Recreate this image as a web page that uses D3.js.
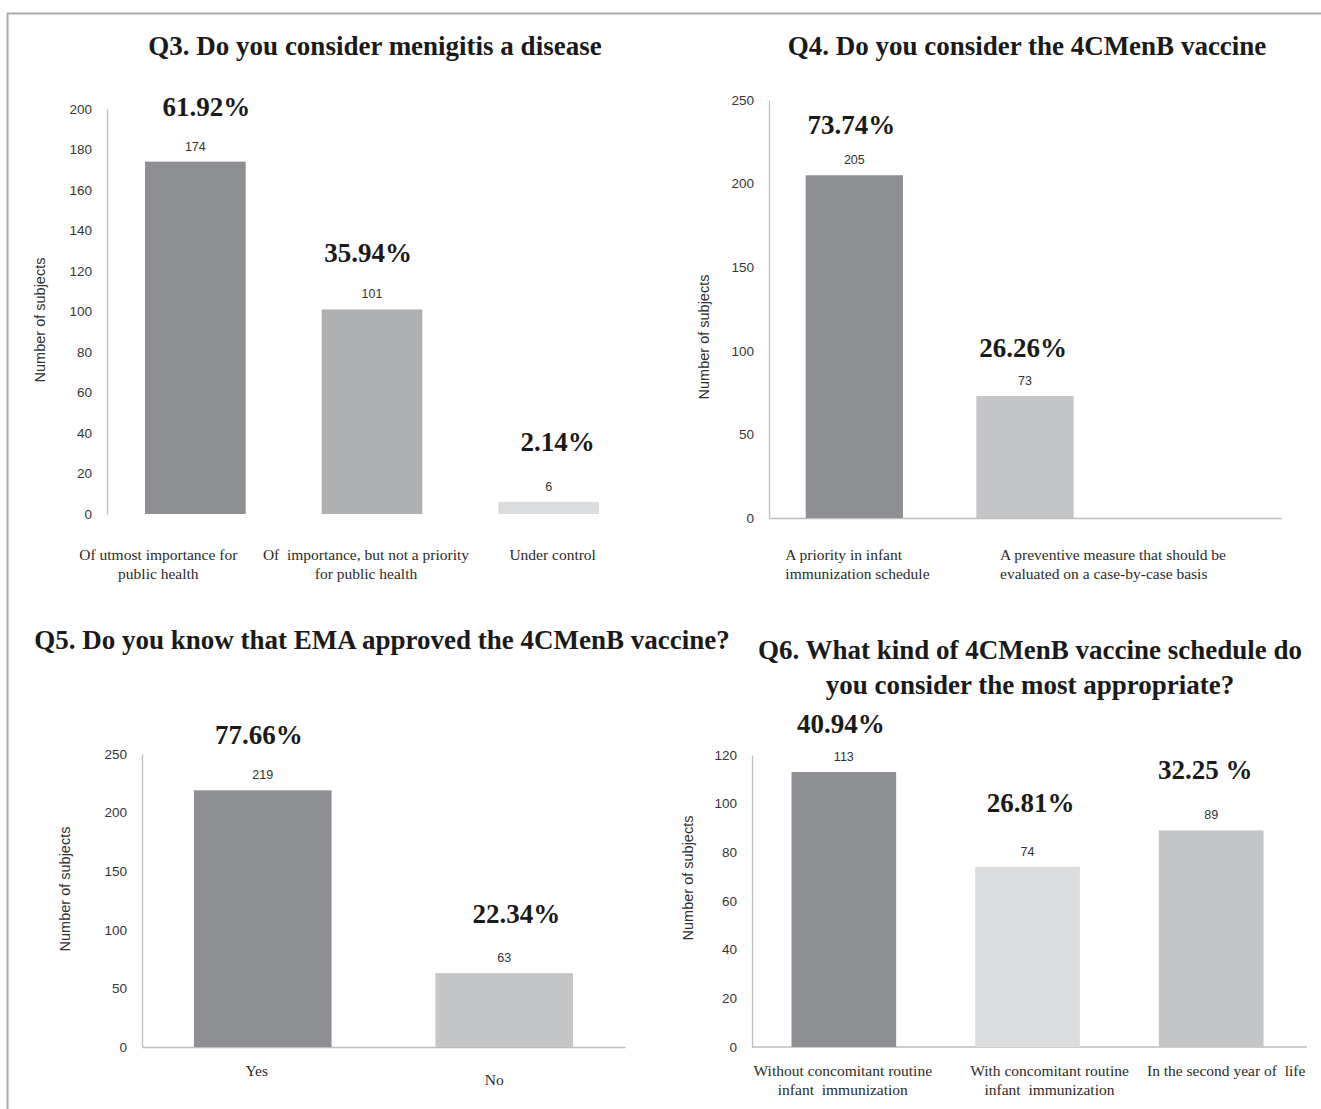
<!DOCTYPE html>
<html>
<head>
<meta charset="utf-8">
<script src="https://cdn.jsdelivr.net/npm/d3@7"></script>
<style>
  html, body { margin: 0; padding: 0; background: #ffffff; }
  svg { display: block; }
  text { white-space: pre; }
</style>
</head>
<body>
<div id="chart"></div>
<script>
// ---- Q3: How important is meningitis ----
const q3Title = ["Q3. Do you consider menigitis a disease"];
const q3Categories = [
  ["Of utmost importance for", "public health"],
  ["Of  importance, but not a priority", "for public health"],
  ["Under control"]
];
const q3Counts = [174, 101, 6];
const q3Percents = ["61.92%", "35.94%", "2.14%"];
const q3Ticks = [0, 20, 40, 60, 80, 100, 120, 140, 160, 180, 200];

// ---- Q4: Opinion on the 4CMenB vaccine ----
const q4Title = ["Q4. Do you consider the 4CMenB vaccine"];
const q4Categories = [
  ["A priority in infant", "immunization schedule"],
  ["A preventive measure that should be", "evaluated on a case-by-case basis"],
  []
];
const q4Counts = [205, 73];
const q4Percents = ["73.74%", "26.26%"];
const q4Ticks = [0, 50, 100, 150, 200, 250];

// ---- Q5: Awareness of EMA approval ----
const q5Title = ["Q5. Do you know that EMA approved the 4CMenB vaccine?"];
const q5Categories = [["Yes"], ["No"]];
const q5Counts = [219, 63];
const q5Percents = ["77.66%", "22.34%"];
const q5Ticks = [0, 50, 100, 150, 200, 250];

// ---- Q6: Preferred vaccine schedule ----
const q6Title = ["Q6. What kind of 4CMenB vaccine schedule do", "you consider the most appropriate?"];
const q6Categories = [
  ["Without concomitant routine", "infant  immunization"],
  ["With concomitant routine", "infant  immunization"],
  ["In the second year of  life"]
];
const q6Counts = [113, 74, 89];
const q6Percents = ["40.94%", "26.81%", "32.25 %"];
const q6Ticks = [0, 20, 40, 60, 80, 100, 120];

const yAxisLabel = "Number of subjects";

// Bar fills (dark, medium, light-medium, light greys)
const DARK = "#8e8f93", MID = "#afb0b2", LMID = "#c4c5c7", LIGHT = "#dbdcdd";

// Layout of each panel
const panels = [
  {
    title: q3Title, titleX: 375, titleY: 55,
    categories: q3Categories, counts: q3Counts, percents: q3Percents, ticks: q3Ticks,
    colors: [DARK, MID, LIGHT],
    xRange: [107, 637], yMax: 200, yRange: [514, 109], xAxis: false,
    yLabelX: 40, yLabelY: 320,
    catAnchor: "middle", catDx: [-37, -6, 4], catY: [560, 579],
    pctDx: [11, -4, 9], pctLift: [46, 47, 51], valLift: 11
  },
  {
    title: q4Title, titleX: 1027, titleY: 55,
    categories: q4Categories, counts: q4Counts, percents: q4Percents, ticks: q4Ticks,
    colors: [DARK, LMID],
    xRange: [769, 1281], yMax: 250, yRange: [518, 100], xAxis: true,
    yLabelX: 704, yLabelY: 337,
    catAnchor: "start", catDx: [-69, -25, 0], catY: [560, 579],
    pctDx: [-3, -2], pctLift: [41, 39], valLift: 11
  },
  {
    title: q5Title, titleX: 382, titleY: 649,
    categories: q5Categories, counts: q5Counts, percents: q5Percents, ticks: q5Ticks,
    colors: [DARK, LMID],
    xRange: [142, 625], yMax: 250, yRange: [1047, 754], xAxis: true,
    yLabelX: 65, yLabelY: 889,
    catAnchor: "middle", catDx: [-6, -10], catY: [1076, 1076], catDy: [0, 9],
    pctDx: [-4, 12], pctLift: [46, 50], valLift: 11
  },
  {
    title: q6Title, titleX: 1030, titleY: 659,
    categories: q6Categories, counts: q6Counts, percents: q6Percents, ticks: q6Ticks,
    colors: [DARK, LIGHT, LMID],
    xRange: [752, 1303], yMax: 120, yRange: [1047, 755], xAxis: true,
    yLabelX: 688, yLabelY: 878,
    catAnchor: "middle", catDx: [-1, 22, 15], catY: [1076, 1095],
    pctDx: [-3, 3, -6], pctLift: [39, 55, 51], valLift: 11
  }
];

const W = 1321, H = 1109;
const svg = d3.select("#chart").append("svg").attr("width", W).attr("height", H);

svg.append("defs").append("clipPath").attr("id", "clipRight")
  .append("rect").attr("x", 0).attr("y", 0).attr("width", 1307).attr("height", H);

// frame
svg.append("rect")
  .attr("x", 7.5).attr("y", 13.5).attr("width", W + 20).attr("height", H + 20)
  .attr("fill", "none").attr("stroke", "#ababab").attr("stroke-width", 2);

const root = svg.append("g").attr("clip-path", "url(#clipRight)");

const SERIF = "'Liberation Serif', 'Times New Roman', serif";
const SANS = "'Liberation Sans', Arial, sans-serif";

panels.forEach(p => {
  const g = root.append("g");
  const nSlots = p.categories.length;

  const x = d3.scaleBand()
    .domain(d3.range(nSlots))
    .range(p.xRange)
    .paddingInner(0.43)
    .paddingOuter(0.215);
  const y = d3.scaleLinear().domain([0, p.yMax]).range(p.yRange);

  // title
  const t = g.append("text")
    .attr("x", p.titleX).attr("y", p.titleY)
    .attr("text-anchor", "middle")
    .attr("font-family", SERIF).attr("font-weight", "bold")
    .attr("font-size", 27).attr("fill", "#1a1a1a");
  p.title.forEach((line, i) => {
    t.append("tspan").attr("x", p.titleX).attr("dy", i === 0 ? 0 : 35).text(line);
  });

  // y axis
  const yAxis = d3.axisLeft(y).tickValues(p.ticks).tickSize(0).tickPadding(15);
  const ga = g.append("g").attr("transform", `translate(${p.xRange[0]},0)`).call(yAxis);
  ga.select(".domain").attr("stroke", "#bdbdbd").attr("stroke-width", 1.3);
  ga.selectAll(".tick text")
    .attr("font-family", SANS).attr("font-size", 13.5).attr("fill", "#353535");

  // x axis baseline
  if (p.xAxis) {
    const xAxis = d3.axisBottom(x).tickSize(0).tickFormat("");
    const gx = g.append("g").attr("transform", `translate(0,${p.yRange[0]})`).call(xAxis);
    gx.select(".domain").attr("stroke", "#bdbdbd").attr("stroke-width", 1.5);
    gx.selectAll(".tick").remove();
    if (p.xRange[1] > 1290) gx.select(".domain").attr("d", `M${p.xRange[0]},0H1310`);
  }

  // y axis title
  g.append("text")
    .attr("transform", `translate(${p.yLabelX},${p.yLabelY}) rotate(-90)`)
    .attr("text-anchor", "middle").attr("dy", "0.35em")
    .attr("font-family", SANS).attr("font-size", 14.5).attr("fill", "#303030")
    .text(yAxisLabel);

  // bars
  g.selectAll("rect.bar").data(p.counts).join("rect")
    .attr("class", "bar")
    .attr("x", (d, i) => x(i))
    .attr("width", x.bandwidth())
    .attr("y", d => y(d))
    .attr("height", d => y(0) - y(d))
    .attr("fill", (d, i) => p.colors[i]);

  // count labels
  g.selectAll("text.val").data(p.counts).join("text")
    .attr("class", "val")
    .attr("x", (d, i) => x(i) + x.bandwidth() / 2)
    .attr("y", d => y(d) - p.valLift)
    .attr("text-anchor", "middle")
    .attr("font-family", SANS).attr("font-size", 12.5).attr("fill", "#333")
    .text(d => d);

  // percentage labels
  g.selectAll("text.pct").data(p.counts).join("text")
    .attr("class", "pct")
    .attr("x", (d, i) => x(i) + x.bandwidth() / 2 + p.pctDx[i])
    .attr("y", (d, i) => y(d) - p.pctLift[i])
    .attr("text-anchor", "middle")
    .attr("font-family", SERIF).attr("font-weight", "bold")
    .attr("font-size", 27).attr("fill", "#1a1a1a")
    .text((d, i) => p.percents[i]);

  // category labels
  p.categories.forEach((lines, i) => {
    const cx = x(i) + x.bandwidth() / 2 + (p.catDx[i] || 0);
    const extra = p.catDy ? p.catDy[i] : 0;
    lines.forEach((line, j) => {
      g.append("text")
        .attr("x", cx).attr("y", p.catY[j] + extra)
        .attr("text-anchor", p.catAnchor)
        .attr("font-family", SERIF).attr("font-size", 15.5).attr("fill", "#2a2a2a")
        .text(line);
    });
  });
});
</script>
</body>
</html>
